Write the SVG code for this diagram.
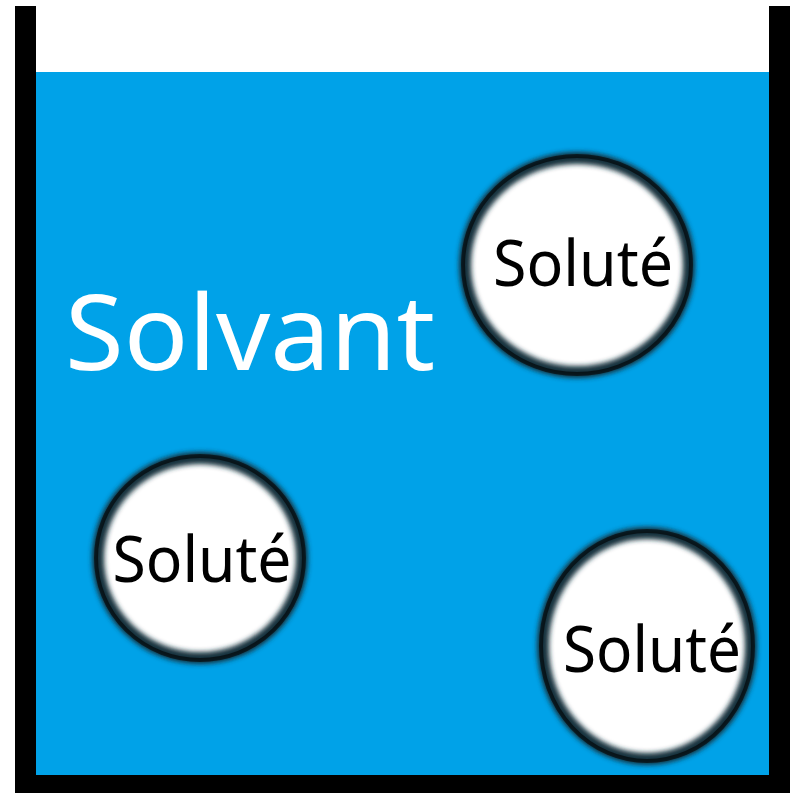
<svg xmlns="http://www.w3.org/2000/svg" width="794" height="793" viewBox="0 0 794 793">
  <defs>
    <filter id="blur" x="-10%" y="-10%" width="120%" height="120%">
      <feGaussianBlur stdDeviation="2.5"/>
    </filter>
  </defs>
  <style>
    .wall { fill: #000000; }
    .water { fill: #00A2E8; }
    .fill { fill: #ffffff; }
    .ring { fill: none; stroke: #15323e; stroke-width: 12; filter: url(#blur); }
    .ring2 { fill: none; stroke: #000000; stroke-width: 4; opacity: 0.6; }
    .lbl { font-family: "Noto Sans", "Open Sans", "DejaVu Sans", sans-serif; font-size: 63px; fill: #000000; text-anchor: middle; }
    .solv { font-family: "Noto Sans", "Open Sans", "DejaVu Sans", sans-serif; font-size: 104px; fill: #ffffff; }
  </style>
  <rect width="794" height="793" fill="#ffffff"/>
  <rect class="water" x="36" y="72" width="733" height="703"/>
  <g id="container">
    <rect class="wall" x="15" y="6" width="21" height="787"/>
    <rect class="wall" x="769" y="6" width="21" height="787"/>
    <rect class="wall" x="15" y="775" width="775" height="18"/>
  </g>
  <g id="solvant">
    <text class="solv" x="65" y="370" textLength="370" lengthAdjust="spacingAndGlyphs">Solvant</text>
  </g>
  <g id="solute1">
    <ellipse class="fill" cx="577" cy="265" rx="112" ry="107"/>
    <ellipse class="ring" cx="577" cy="265" rx="112" ry="107"/>
    <ellipse class="ring2" cx="577" cy="265" rx="114" ry="109"/>
    <text class="lbl" x="583" y="286" textLength="180" lengthAdjust="spacingAndGlyphs">Soluté</text>
  </g>
  <g id="solute2">
    <ellipse class="fill" cx="200" cy="558" rx="102" ry="100"/>
    <ellipse class="ring" cx="200" cy="558" rx="102" ry="100"/>
    <ellipse class="ring2" cx="200" cy="558" rx="104" ry="102"/>
    <text class="lbl" x="202" y="582" textLength="179" lengthAdjust="spacingAndGlyphs">Soluté</text>
  </g>
  <g id="solute3">
    <ellipse class="fill" cx="647" cy="646" rx="104" ry="113"/>
    <ellipse class="ring" cx="647" cy="646" rx="104" ry="113"/>
    <ellipse class="ring2" cx="647" cy="646" rx="106" ry="115"/>
    <text class="lbl" x="652" y="672" textLength="178" lengthAdjust="spacingAndGlyphs">Soluté</text>
  </g>
</svg>
